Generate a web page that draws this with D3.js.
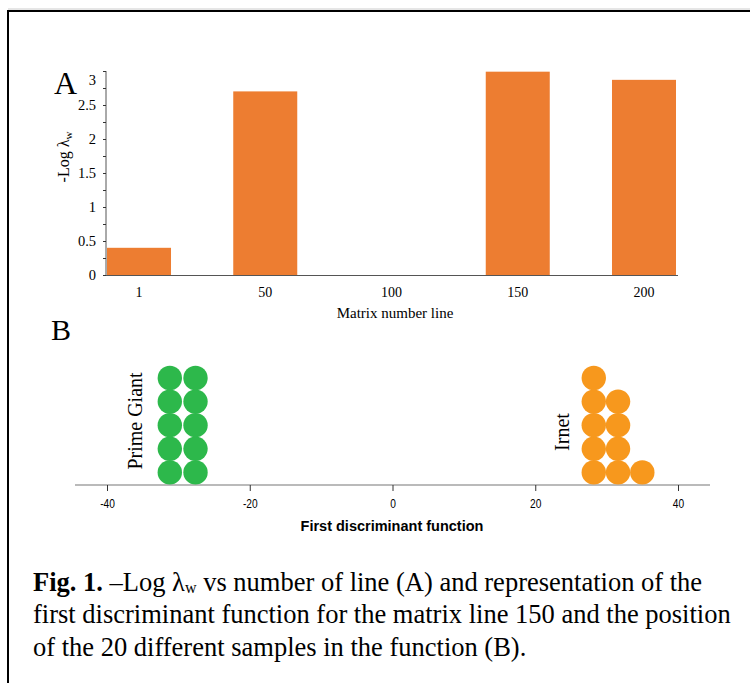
<!DOCTYPE html>
<html><head><meta charset="utf-8">
<script src="https://cdn.jsdelivr.net/npm/d3@7"></script>
<style>body{margin:0;background:#fff}svg{display:block}</style>
</head><body>
<svg id="c" width="750" height="683"></svg>
<script>
// Panel A data
const lineCats = ["1","50","100","150","200"];
const logLambda = [0.40, 2.70, 0, 2.99, 2.87];
const yTicksA = [0,0.5,1,1.5,2,2.5,3];
// Panel B data (first discriminant function scores)
const primeGiant = [-31.2,-31.2,-31.2,-31.2,-31.2,-27.6,-27.6,-27.6,-27.6,-27.6];
const irnet = [28.2,28.2,28.2,28.2,28.2,31.6,31.6,31.6,31.6,35.0];
const xTicksB = [-40,-20,0,20,40];

const svg = d3.select("#c");
const serif = "Liberation Serif, Times New Roman, serif";
const sans = "Liberation Sans, Arial, sans-serif";

// frame
svg.append("line").attr("x1",8).attr("x2",750).attr("y1",9).attr("y2",9).attr("stroke","#ccc").attr("stroke-width",1);
svg.append("rect").attr("x",8).attr("y",11).attr("width",760).attr("height",700)
  .attr("fill","none").attr("stroke","#000").attr("stroke-width",2);

// ---------- Panel A ----------
const xA = d3.scaleBand().domain(lineCats).range([107,676]).paddingInner(0.493).paddingOuter(0);
const yA = d3.scaleLinear().domain([0,3]).range([275,71]);
const gA = svg.append("g");
gA.selectAll("rect.bar").data(lineCats).join("rect").attr("class","bar")
  .attr("x",d=>xA(d)).attr("width",xA.bandwidth())
  .attr("y",(d,i)=>yA(logLambda[i])).attr("height",(d,i)=>yA(0)-yA(logLambda[i]))
  .attr("fill","#ed7d31");
// y axis
const yAxA = gA.append("g").attr("transform","translate(106,0)")
  .call(d3.axisLeft(yA).tickValues(d3.range(0,3.01,0.25)).tickSize(3).tickFormat(d=>yTicksA.includes(d)?String(d):""));
yAxA.attr("font-family",serif);
yAxA.select(".domain").attr("d","M0,"+yA(3)+"V"+yA(0)).attr("stroke","#555");
yAxA.selectAll(".tick line").attr("stroke","#333");
yAxA.selectAll(".tick text").attr("font-family",serif).attr("font-size",14.5).attr("fill","#000").attr("x",-10)
  .attr("dy",d=>d===3?"0.95em":"0.32em");
// x axis
gA.append("line").attr("x1",106).attr("x2",678).attr("y1",275.5).attr("y2",275.5).attr("stroke","#555");
const xAxA = gA.append("g").attr("transform","translate(0,275)")
  .call(d3.axisBottom(xA).tickSize(0).tickPadding(12));
xAxA.attr("font-family",serif);
xAxA.select(".domain").remove();
xAxA.selectAll(".tick text").attr("font-family",serif).attr("font-size",14).attr("fill","#000");
gA.append("text").attr("x",395).attr("y",318).attr("text-anchor","middle")
  .attr("font-family",serif).attr("font-size",15).text("Matrix number line");
const yt = gA.append("text").attr("transform","translate(69,157) rotate(-90)").attr("text-anchor","middle")
  .attr("font-family",serif).attr("font-size",16);
yt.append("tspan").text("-Log λ");
yt.append("tspan").attr("font-size",11).attr("dy",3).text("w");
svg.append("text").attr("x",54).attr("y",94).attr("font-family",serif).attr("font-size",32).text("A");
svg.append("text").attr("x",51).attr("y",340).attr("font-family",serif).attr("font-size",30).text("B");

// ---------- Panel B ----------
const xB = d3.scaleLinear().domain([-40,40]).range([107,678]);
const axisY = 485;
const gB = svg.append("g");
gB.append("line").attr("x1",75).attr("x2",710).attr("y1",axisY).attr("y2",axisY).attr("stroke","#777").attr("stroke-width",1.2);
const xAxB = gB.append("g").attr("transform","translate(0,"+axisY+")")
  .call(d3.axisBottom(xB).tickValues(xTicksB).tickSize(6).tickPadding(8).tickFormat(d=>String(d)));
xAxB.select(".domain").remove();
xAxB.selectAll(".tick line").attr("stroke","#333");
xAxB.selectAll(".tick text").attr("font-family",sans).attr("font-size",12).attr("fill","#000")
  .attr("transform","scale(0.85,1)");
gB.append("text").attr("x",392).attr("y",531).attr("text-anchor","middle")
  .attr("font-family",sans).attr("font-weight","bold").attr("font-size",14.5).text("First discriminant function");

function stack(vals){
  const counts = {};
  return vals.map(v=>{const k=v.toFixed(1);counts[k]=(counts[k]||0);const i=counts[k]++;return {v,i};});
}
const r = 12.2, step = 23.6;
[[primeGiant,"#2db84b"],[irnet,"#f7981d"]].forEach(([vals,col])=>{
  gB.selectAll(null).data(stack(vals)).join("circle")
    .attr("cx",d=>xB(d.v)).attr("cy",d=>axisY-12.6-d.i*step).attr("r",r).attr("fill",col);
});
gB.append("text").attr("transform","translate(142,421) rotate(-90)").attr("text-anchor","middle")
  .attr("font-family",serif).attr("font-size",20).text("Prime Giant");
gB.append("text").attr("transform","translate(569,432) rotate(-90)").attr("text-anchor","middle")
  .attr("font-family",serif).attr("font-size",20).text("Irnet");

// ---------- Caption ----------
const cap = svg.append("g").attr("font-family",serif).attr("font-size",26.5);
const l1 = cap.append("text").attr("x",33).attr("y",591);
l1.append("tspan").attr("font-weight","bold").text("Fig. 1.");
l1.append("tspan").text(" –Log λ");
l1.append("tspan").attr("font-size",16).attr("dy",2).text("w");
l1.append("tspan").attr("dy",-2).text(" vs number of line (A) and representation of the");
cap.append("text").attr("x",33).attr("y",623).text("first discriminant function for the matrix line 150 and the position");
cap.append("text").attr("x",33).attr("y",656).text("of the 20 different samples in the function (B).");
</script>
</body></html>
